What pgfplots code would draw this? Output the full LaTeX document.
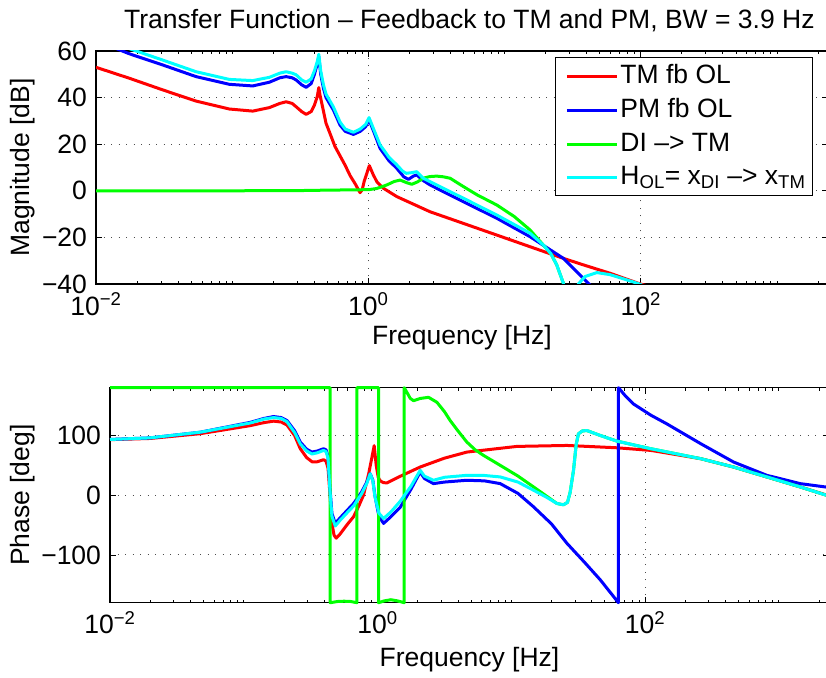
\documentclass[border=0pt]{standalone}
\usepackage{fontspec}
\setmainfont{Liberation Sans}
\usepackage{pgfplots}
\pgfplotsset{compat=1.18}
\definecolor{mred}{RGB}{255,0,0}
\definecolor{mblue}{RGB}{0,0,255}
\definecolor{mgreen}{RGB}{0,255,0}
\definecolor{mcyan}{RGB}{0,255,255}
\newcommand{\fs}{\fontsize{26.5}{31}\selectfont}
\pgfplotsset{
  bode/.style={
    scale only axis,
    xmin=-2, xmax=3.375,
    xtick={-2,0,2},
    xticklabels={10\textsuperscript{−2},10\textsuperscript{0},10\textsuperscript{2}},
    minor xtick={-1.699,-1.523,-1.398,-1.301,-1.222,-1.155,-1.097,-1.046,-1,
                 -0.699,-0.523,-0.398,-0.301,-0.222,-0.155,-0.097,-0.046,
                 0.301,0.477,0.602,0.699,0.778,0.845,0.903,0.954,1,
                 1.301,1.477,1.602,1.699,1.778,1.845,1.903,1.954,
                 2.301,2.477,2.602,2.699,2.778,2.845,2.903,2.954,3,3.301},
    tick align=inside,
    major tick length=6pt,
    minor tick length=3pt,
    tick style={black, line width=0.8pt},
    axis line style={line width=1.1pt},
    xmajorgrids, ymajorgrids,
    grid style={black!70, line width=0.9pt, dash pattern=on 1pt off 6.5pt},
    every tick label/.append style={font=\fs},
    label style={font=\fs},
    every axis plot/.append style={line width=3pt, line join=round},
  }
}
\begin{document}
\fs
\begin{tikzpicture}
% ---------------- Magnitude ----------------
\begin{axis}[bode,
  at={(96pt,393pt)}, anchor=south west,
  width=732pt, height=233pt,
  ymin=-40, ymax=60,
  ytick={-40,-20,0,20,40,60},
  yticklabels={−40,−20,0,20,40,60},
  xlabel={Frequency [Hz]},
  ylabel={Magnitude [dB]},
  xlabel style={at={(axis description cs:0.5,-0.232)}, anchor=center},
  ylabel style={at={(axis description cs:-0.0997,0.5)}, anchor=center},
  title={Transfer Function – Feedback to TM and PM, BW = 3.9 Hz},
  title style={at={(axis description cs:0.51,1.105)}, anchor=center, font=\fs},
  legend style={at={(axis description cs:0.9795,0.974)}, anchor=north east,
    draw=black, line width=1.1pt, fill=white, font=\fs,
    inner xsep=5pt, inner ysep=5pt, row sep=7pt,
    /tikz/every even column/.append style={column sep=4pt}},
  legend cell align=left,
  legend image code/.code={\path (0pt,0pt); \draw[#1] (5pt,0pt) -- (55pt,0pt);},
]
\addplot[mred] coordinates {
(-2.0,53.0)(-1.755,48.3)(-1.510,43.3)(-1.265,38.5)(-1.021,35.1)(-0.849,34.2)
(-0.727,35.7)(-0.650,37.5)(-0.604,38.2)(-0.560,37.5)(-0.531,36.1)(-0.490,34.0)
(-0.457,32.8)(-0.420,34.0)(-0.396,36.8)(-0.375,40.5)(-0.364,44.3)(-0.355,41)
(-0.340,37)(-0.311,29)(-0.281,24.5)(-0.245,19)(-0.208,15)(-0.171,11)(-0.134,6.5)
(-0.097,3)(-0.061,-0.8)(-0.045,0.5)(-0.031,4)(0.007,10.8)(0.035,7)(0.062,3.9)
(0.110,1.1)(0.209,-2.5)(0.453,-9.0)(0.698,-14.0)(0.943,-19.0)(1.187,-24.0)
(1.432,-29.0)(1.579,-31.8)(1.775,-35.4)(1.982,-39.7)(2.141,-42.5)};
\addlegendentry{TM fb OL}
\addplot[mblue] coordinates {
(-2,64.5)(-1.755,58.8)(-1.510,54.0)(-1.265,49.0)(-1.021,45.7)(-0.849,45.0)
(-0.727,46.6)(-0.650,48.5)(-0.604,49.0)(-0.560,48.5)(-0.531,47.6)(-0.490,45.5)
(-0.457,44.4)(-0.420,46.0)(-0.396,50.0)(-0.375,54.5)(-0.364,57.6)(-0.350,50)
(-0.330,44)(-0.311,40)(-0.257,34.7)(-0.208,28.2)(-0.170,25.5)(-0.110,24.2)
(-0.060,25.5)(-0.020,27.5)(0.005,30.4)(0.042,25)(0.086,18.2)(0.150,13)(0.209,9.6)
(0.260,6)(0.294,4.9)(0.330,6.3)(0.355,6.8)(0.400,4.5)(0.453,2.5)(0.698,-4.7)
(0.943,-11.8)(1.187,-19.7)(1.432,-29.0)(1.554,-36.1)(1.615,-39.7)(1.664,-42.5)};
\addlegendentry{PM fb OL}
\addplot[mgreen] coordinates {
(-2,0)(-1,0)(-0.5,0.1)(-0.281,0.3)(-0.1,0.4)(0.005,0.5)(0.062,1.0)(0.135,2.5)
(0.190,4.0)(0.233,4.6)(0.280,3.5)(0.319,2.8)(0.360,3.8)(0.404,5.4)(0.450,6.1)
(0.502,6.3)(0.550,6.0)(0.600,5.4)(0.698,1.8)(0.800,-1.8)(0.943,-6.1)(1.070,-11.0)
(1.187,-16.8)(1.285,-23.3)(1.340,-27)(1.383,-31.8)(1.432,-39.7)(1.445,-44)(1.46,-55)};
\addlegendentry{DI –> TM}
\addplot[mcyan] coordinates {
(-2,66.5)(-1.755,61)(-1.510,56.1)(-1.265,51.1)(-1.021,47.8)(-0.849,47.3)
(-0.727,48.7)(-0.650,50.5)(-0.604,51.1)(-0.560,50.5)(-0.531,49.8)(-0.490,47.6)
(-0.457,46.6)(-0.420,48.0)(-0.396,51.5)(-0.375,55.5)(-0.364,58.6)(-0.350,51.5)
(-0.330,45.5)(-0.311,41.5)(-0.257,36)(-0.208,29.5)(-0.170,26.5)(-0.110,25.1)
(-0.060,26.5)(-0.020,28.5)(0.005,31.4)(0.042,26)(0.086,19.7)(0.150,14.5)(0.209,11.1)
(0.250,8.5)(0.277,7.5)(0.320,7.8)(0.355,8.2)(0.400,5.5)(0.453,3.9)(0.698,-3.2)
(0.943,-10.4)(1.187,-18.2)(1.285,-23.3)(1.340,-27)(1.383,-31.8)(1.432,-39.7)
(1.445,-44)(1.46,-55)(1.50,-55)(1.52,-44)(1.542,-40)(1.591,-36.8)(1.677,-35.1)
(1.775,-36.0)(1.885,-38.0)(1.975,-39.7)(2.031,-41)};
\addlegendentry{H\textsubscript{OL}= x\textsubscript{DI} –> x\textsubscript{TM}}
\end{axis}
% ---------------- Phase ----------------
\begin{axis}[bode,
  at={(110pt,74.3pt)}, anchor=south west,
  width=719pt, height=215pt,
  ymin=-180, ymax=180,
  ytick={-100,0,100},
  yticklabels={−100,0,100},
  clip=false,
  xlabel={Frequency [Hz]},
  ylabel={Phase [deg]},
  xlabel style={at={(axis description cs:0.5,-0.265)}, anchor=center},
  ylabel style={at={(axis description cs:-0.121,0.5)}, anchor=center},
]
\addplot[mred] coordinates {
(-2,93)(-1.7,95)(-1.325,103)(-0.951,116.5)(-0.85,121.5)(-0.777,124)(-0.72,122.5)
(-0.677,117.5)(-0.62,100)(-0.578,78)(-0.53,63)(-0.490,56)(-0.45,56)(-0.404,59.4)
(-0.385,57)(-0.37,45)(-0.355,0)(-0.341,-47)(-0.325,-67)(-0.309,-72)(-0.28,-65)
(-0.23,-50)(-0.179,-36)(-0.14,-18)(-0.105,0)(-0.067,35)(-0.045,60)(-0.025,83)
(-0.01,50)(0.005,30)(0.020,24)(0.045,21)(0.070,20.6)(0.170,31.7)(0.319,47.2)
(0.500,62)(0.668,72.2)(1.042,81.7)(1.416,83.3)(1.789,79.4)(2.043,75)(2.417,61.1)
(2.661,47.2)(2.910,30.6)(3.159,13.9)(3.375,-1)};
\addplot[mblue] coordinates {
(-2,93.3)(-1.7,96)(-1.325,105.5)(-0.951,122)(-0.85,128.5)(-0.777,131.7)(-0.72,130)
(-0.677,125)(-0.62,108)(-0.578,89)(-0.53,77)(-0.490,72.2)(-0.45,74)(-0.404,77.8)
(-0.385,76)(-0.37,65)(-0.355,10)(-0.341,-30.6)(-0.316,-47.2)(-0.28,-38)(-0.23,-26)
(-0.179,-13.9)(-0.12,5)(-0.08,22)(-0.055,36.1)(-0.035,25)(-0.02,0)(0.010,-35)
(0.045,-47.2)(0.10,-36)(0.170,-20)(0.25,10)(0.319,38.9)(0.35,28)(0.418,19.4)
(0.5,22)(0.668,25)(0.8,24)(0.917,19.4)(1.05,3)(1.166,-19.4)(1.3,-48)(1.416,-80.6)
(1.55,-113)(1.665,-141.7)(1.73,-160)(1.801,-180)(1.801,180)(1.85,167)(1.913,152.8)
(2.043,134)(2.163,119.4)(2.417,86.1)(2.661,55.6)(2.910,33.3)(3.159,19.4)(3.375,13)};
\addplot[mgreen] coordinates {
(-2,180)(-0.354,180)(-0.354,-180)(-0.30,-178)(-0.25,-177.5)(-0.20,-178)(-0.154,-180)
(-0.154,180)(0.0075,180)(0.0075,-180)(0.05,-177)(0.10,-175)(0.15,-177)(0.1996,-180)
(0.1996,180)(0.22,172)(0.245,162)(0.269,158.3)(0.32,162)(0.381,163.9)(0.444,155.6)
(0.50,140)(0.543,125)(0.60,108)(0.668,88.9)(0.73,76)(0.792,66.7)(0.917,50)(1.05,32)
(1.166,13.9)(1.26,-1)(1.341,-13.9)(1.39,-16)(1.42,-12)(1.44,5)(1.465,41.7)(1.485,85)
(1.502,102.8)(1.53,107.5)(1.565,108.3)(1.665,100)(1.789,90.6)(2.043,77.8)(2.417,61.1)
(2.661,47.2)(2.910,30.6)(3.159,13.9)(3.375,-1.5)};
\addplot[mcyan] coordinates {
(-2,93.3)(-1.7,96)(-1.325,105.5)(-0.951,121)(-0.85,127.5)(-0.777,130)(-0.72,128.5)
(-0.677,123)(-0.62,105)(-0.578,86)(-0.53,74)(-0.490,69)(-0.45,71)(-0.404,75)
(-0.385,73)(-0.37,62)(-0.355,5)(-0.341,-35)(-0.316,-51.6)(-0.28,-42)(-0.23,-30)
(-0.179,-18)(-0.12,2)(-0.08,20)(-0.055,36)(-0.035,24)(-0.02,-2)(0.010,-30)(0.045,-39)
(0.10,-28)(0.170,-10)(0.25,15)(0.319,41.7)(0.35,32)(0.418,25)(0.5,30)(0.668,33.3)
(0.8,33)(0.917,30.6)(1.05,22)(1.166,8.3)(1.26,-3)(1.341,-13.9)(1.39,-16)(1.42,-12)
(1.44,5)(1.465,41.7)(1.485,85)(1.502,102.8)(1.53,107.5)(1.565,108.3)(1.665,100)
(1.789,90.6)(2.043,77.8)(2.417,61.1)(2.661,47.2)(2.910,30.6)(3.159,13.9)(3.375,-1.5)};
\end{axis}
\pgfresetboundingbox
\path[use as bounding box] (0pt,0pt) rectangle (826pt,677pt);
\end{tikzpicture}
\end{document}
